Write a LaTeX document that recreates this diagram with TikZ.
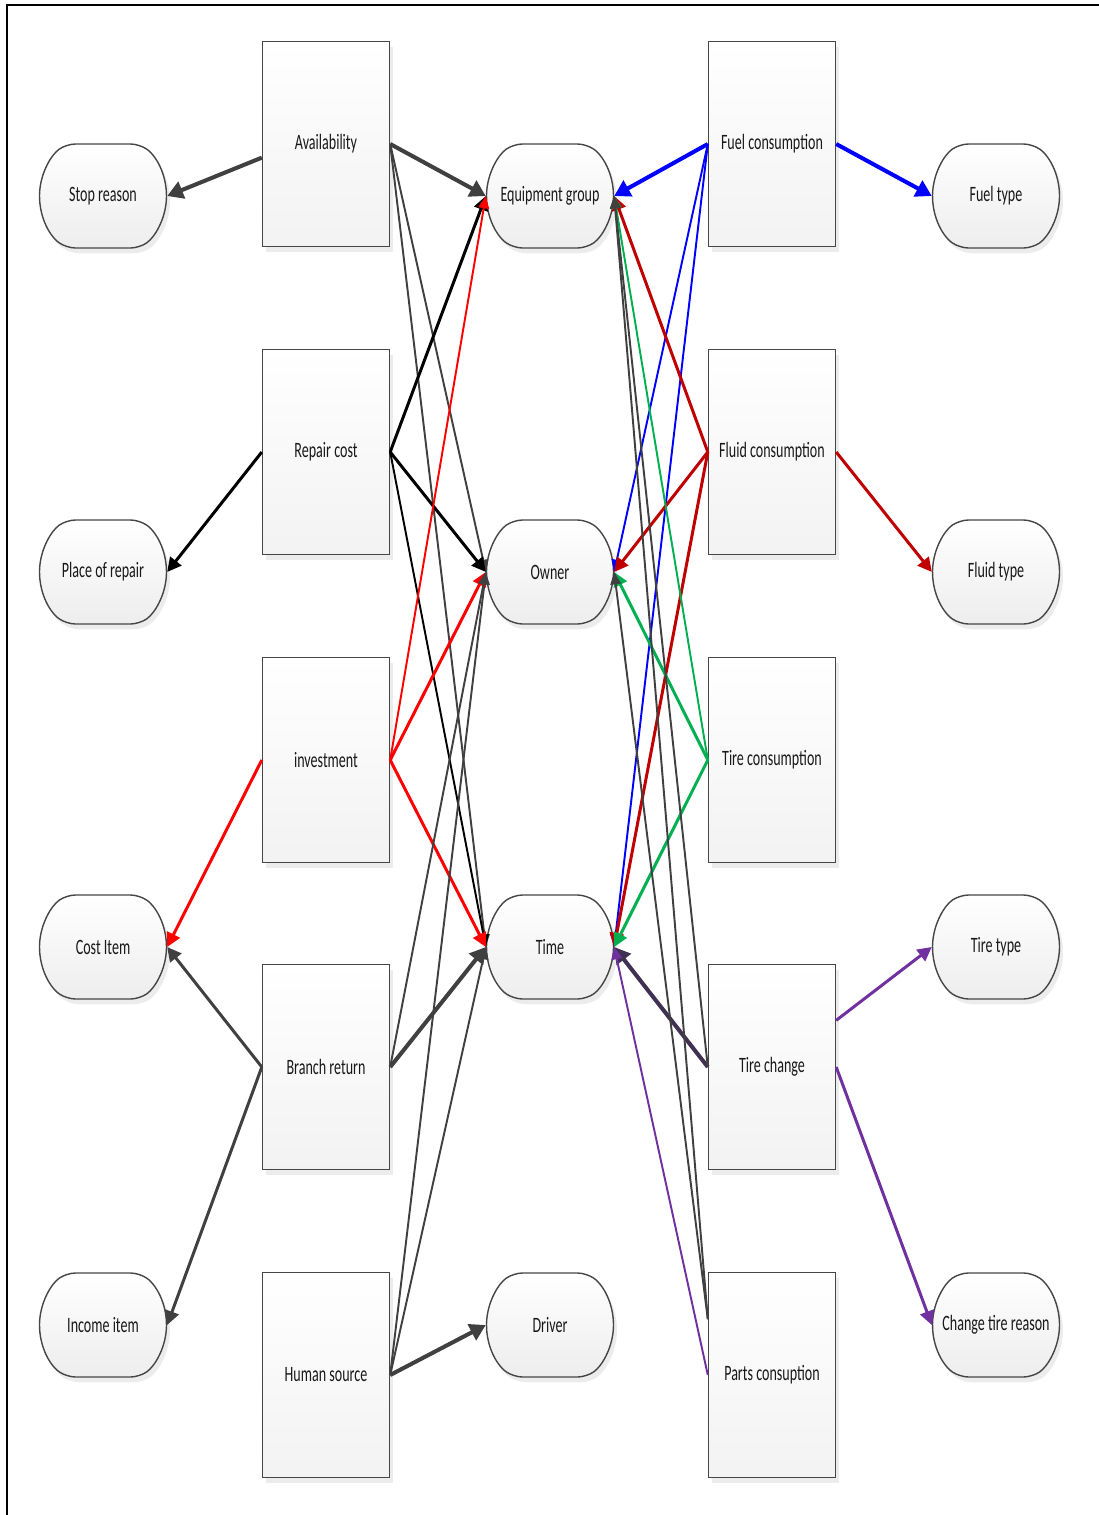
\documentclass[tikz,border=0pt]{standalone}
\usepackage{fontspec}
\setmainfont{Carlito}
\usepackage{graphicx}
\usetikzlibrary{arrows.meta, shadows, shapes.misc}

\definecolor{dgray}{HTML}{404040}
\definecolor{dred}{HTML}{C00000}
\definecolor{vgreen}{HTML}{00B050}
\definecolor{vpurple}{HTML}{7030A0}
\definecolor{dpurple}{HTML}{403152}

% narrow the labels
\newcommand{\squeeze}[1]{\scalebox{0.64}[1]{#1}}

\begin{document}
\begin{tikzpicture}[x=0.02cm, y=-0.02cm,
  lbl/.style={font=\fontsize{12.5}{14}\selectfont, text=black!90, inner sep=0pt},
  box/.style={lbl, draw=gray!55!black, line width=0.8pt, top color=white, bottom color=gray!10,
    minimum width=2.54cm, minimum height=4.1cm,
    drop shadow={shadow xshift=2pt, shadow yshift=-3pt, fill=gray!30}},
  term/.style={lbl, rounded rectangle, rounded rectangle arc length=110, rounded corners=5pt,
    draw=gray!55!black, line width=0.8pt, top color=white, bottom color=gray!14,
    minimum width=2.54cm, minimum height=2.08cm,
    drop shadow={shadow xshift=2pt, shadow yshift=-3pt, fill=gray!30}},
  heavy/.style={line width=2.3pt, -{Triangle[length=9pt,width=10pt]}},
  medium/.style={line width=1.7pt, -{Triangle[length=8pt,width=8pt]}},
  light/.style={line width=1.1pt, -{Triangle[length=7pt,width=6pt]}}]

  \useasboundingbox (0,0) rectangle (1099,1515);
  \draw[line width=1.7pt] (7,1515) -- (7,5) -- (1099,5);

  % ---------- boxes, left and right ----------
  \foreach \n/\y/\t in {avail/144/Availability, repair/452/Repair cost, invest/760/investment,
                        branch/1067/Branch return, human/1375/Human source}
    \node[box] (\n) at (326,\y) {\squeeze{\t}};
  \foreach \n/\y/\t in {fuel/144/Fuel consumption, fluid/452/Fluid consumption,
                        tirecons/760/Tire consumption, tirechg/1067/Tire change,
                        parts/1375/Parts consuption}
    \node[box] (\n) at (772,\y) {\squeeze{\t}};

  % ---------- rounded items ----------
  \foreach \n/\y/\t in {stopr/196/Stop reason, place/572/Place of repair,
                        costitem/947/Cost Item, income/1325/Income item}
    \node[term] (\n) at (103,\y) {\squeeze{\t}};
  \foreach \n/\y/\t in {eqgroup/196/Equipment group, owner/572/Owner,
                        time/947/Time, driver/1325/Driver}
    \node[term] (\n) at (550,\y) {\squeeze{\t}};
  \foreach \n/\y/\t in {fueltype/196/Fuel type, fluidtype/572/Fluid type,
                        tiretype/947/Tire type, chgreason/1325/Change tire reason}
    \node[term] (\n) at (996,\y) {\squeeze{\t}};

  % ---------- links, left half ----------
  \foreach \a/\b/\c/\w in {avail.192/stopr.east/dgray/heavy, avail.east/eqgroup.west/dgray/heavy,
      avail.east/owner.west/dgray/light, avail.east/time.west/dgray/light,
      repair.west/place.east/black/medium, repair.east/eqgroup.west/black/medium,
      repair.east/owner.west/black/medium, repair.east/time.west/black/light,
      invest.west/costitem.east/red/medium, invest.east/eqgroup.west/red/light,
      invest.east/owner.west/red/medium, invest.east/time.west/red/medium,
      branch.west/costitem.east/dgray/medium, branch.west/income.east/dgray/medium,
      branch.east/time.west/dgray/heavy, branch.east/owner.west/dgray/light,
      human.east/driver.west/dgray/heavy, human.east/owner.west/dgray/light,
      human.east/time.west/dgray/light}
    \draw[\c, \w] (\a) -- (\b);

  % ---------- links, right half ----------
  \foreach \a/\b/\c/\w in {fuel.east/fueltype.west/blue/heavy, fuel.west/eqgroup.east/blue/heavy,
      fuel.west/owner.east/blue/light, fuel.west/time.east/blue/light,
      fluid.east/fluidtype.west/dred/medium, fluid.west/eqgroup.east/dred/medium,
      fluid.west/owner.east/dred/medium, fluid.west/time.east/dred/medium,
      tirecons.west/eqgroup.east/vgreen/light, tirecons.west/owner.east/vgreen/medium,
      tirecons.west/time.east/vgreen/medium,
      tirechg.36/tiretype.west/vpurple/medium, tirechg.east/chgreason.west/vpurple/medium,
      tirechg.west/time.east/dpurple/heavy, tirechg.west/eqgroup.east/dgray/light,
      parts.west/time.east/vpurple/light, parts.139/eqgroup.east/dgray/light,
      parts.139/owner.east/dgray/light}
    \draw[\c, \w] (\a) -- (\b);

\end{tikzpicture}
\end{document}
